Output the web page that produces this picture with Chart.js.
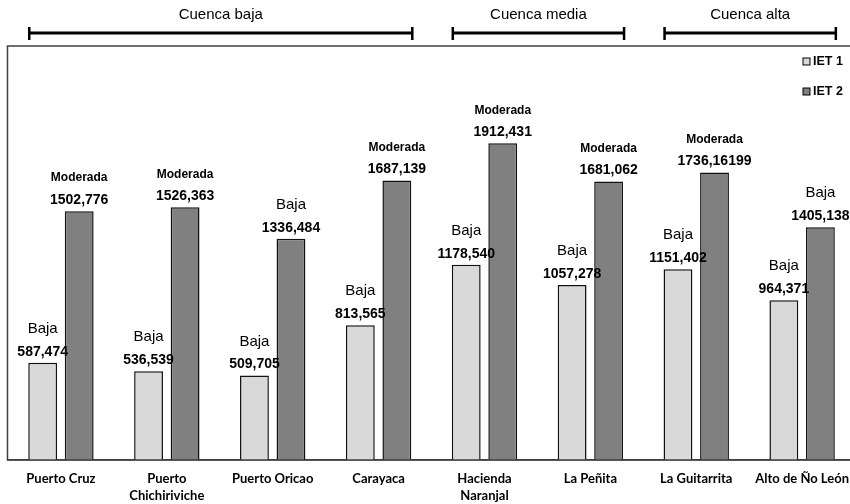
<html>
  <head>
    <title>IET por estación</title>
    <script src="https://cdn.jsdelivr.net/npm/chart.js"></script>
    <style type="text/css">
      html, body { margin: 0; padding: 0; background: #fff; overflow: hidden; }
      /* el lienzo es un poco más ancho que la ventana: el marco sigue por la derecha */
      #wrap { width: 859px; height: 504px; position: relative; }
    </style>
  </head>
  <body>
    <div id="wrap"><canvas id="ietChart"></canvas></div>
    <script>
      // Estaciones (dos líneas donde el nombre es largo)
      var stations = [
        'Puerto Cruz', ['Puerto', 'Chichiriviche'], 'Puerto Oricao', 'Carayaca',
        ['Hacienda', 'Naranjal'], 'La Peñita', 'La Guitarrita', 'Alto de Ño León'
      ];
      var iet1 = [587.474, 536.539, 509.705, 813.565, 1178.540, 1057.278, 1151.402, 964.371];
      var iet2 = [1502.776, 1526.363, 1336.484, 1687.139, 1912.431, 1681.062, 1736.16199, 1405.138];
      var iet1Class = ['Baja', 'Baja', 'Baja', 'Baja', 'Baja', 'Baja', 'Baja', 'Baja'];
      var iet2Class = ['Moderada', 'Moderada', 'Baja', 'Moderada', 'Moderada', 'Moderada', 'Moderada', 'Baja'];
      // tramos de la cuenca: [nombre, primera estación, última estación]
      var basins = [['Cuenca baja', 0, 3], ['Cuenca media', 4, 5], ['Cuenca alta', 6, 7]];

      var sans = '"Liberation Sans", Arial, sans-serif';

      // número con coma decimal y al menos tres decimales
      function fmt(v) {
        var parts = String(v).split('.');
        var dec = (parts[1] || '');
        while (dec.length < 3) dec += '0';
        return parts[0] + ',' + dec;
      }

      // etiquetas sobre las barras, borde del área, corchetes y leyenda
      var decorations = {
        id: 'decorations',
        afterDatasetsDraw: function(chart) {
          var ctx = chart.ctx;
          var area = chart.chartArea;
          ctx.save();

          // marco del gráfico
          ctx.strokeStyle = '#404040';
          ctx.lineWidth = 1.5;
          ctx.strokeRect(area.left - 0.5, area.top, area.right - area.left, area.bottom - area.top);

          ctx.textAlign = 'center';
          ctx.textBaseline = 'middle';
          ctx.fillStyle = '#000';
          [iet1Class, iet2Class].forEach(function(classes, di) {
            var meta = chart.getDatasetMeta(di);
            meta.data.forEach(function(bar, i) {
              var vy = bar.y - 11;
              ctx.font = 'bold 14px ' + sans;
              ctx.fillText(fmt(chart.data.datasets[di].data[i]), bar.x, vy);
              if (classes[i] === 'Moderada') {
                ctx.font = 'bold 12px ' + sans;
                ctx.fillText(classes[i], bar.x, vy - 22);
              } else {
                ctx.font = '15px ' + sans;
                ctx.fillText(classes[i], bar.x, vy - 23);
              }
            });
          });

          // corchetes de los tramos de cuenca
          var m1 = chart.getDatasetMeta(0), m2 = chart.getDatasetMeta(1);
          basins.forEach(function(b) {
            var a = m1.data[b[1]], z = m2.data[b[2]];
            var x0 = a.x - a.width / 2 + 1, x1 = z.x + z.width / 2 + 1;
            ctx.strokeStyle = '#000';
            ctx.lineWidth = 3;
            ctx.beginPath();
            ctx.moveTo(x0, 33); ctx.lineTo(x1, 33);
            ctx.stroke();
            ctx.lineWidth = 2.5;
            ctx.beginPath();
            ctx.moveTo(x0, 27); ctx.lineTo(x0, 40);
            ctx.moveTo(x1, 27); ctx.lineTo(x1, 40);
            ctx.stroke();
            ctx.font = '15px ' + sans;
            ctx.fillText(b[0], (x0 + x1) / 2, 15);
          });

          // leyenda
          ctx.textAlign = 'left';
          ctx.font = 'bold 12.5px ' + sans;
          chart.data.datasets.forEach(function(ds, i) {
            var y = 62 + i * 30;
            ctx.fillStyle = ds.backgroundColor;
            ctx.fillRect(803, y - 4, 7, 7);
            ctx.strokeStyle = '#000';
            ctx.lineWidth = 1;
            ctx.strokeRect(803, y - 4, 7, 7);
            ctx.fillStyle = '#000';
            ctx.fillText(ds.label, 813, y);
          });
          ctx.restore();
        }
      };

      new Chart(document.getElementById('ietChart'), {
        type: 'bar',
        data: {
          labels: stations,
          datasets: [
            { label: 'IET 1', data: iet1, backgroundColor: '#d9d9d9', borderColor: '#111', borderWidth: 1.5,
              categoryPercentage: 0.69, barPercentage: 0.79 },
            { label: 'IET 2', data: iet2, backgroundColor: '#808080', borderColor: '#111', borderWidth: 1.5,
              categoryPercentage: 0.69, barPercentage: 0.79 }
          ]
        },
        options: {
          responsive: true,
          maintainAspectRatio: false,
          animation: false,
          layout: { padding: { top: 46, left: 8, right: 0, bottom: 0 } },
          plugins: { legend: { display: false }, tooltip: { enabled: false } },
          scales: {
            y: { display: false, min: 0, max: 2500 },
            x: {
              grid: { display: false, drawTicks: false },
              border: { display: true, color: '#404040', width: 1.5 },
              ticks: {
                padding: 10,
                maxRotation: 0,
                autoSkip: false,
                color: '#000',
                font: { family: 'Lato, "Open Sans", sans-serif', weight: 'bold', size: 13, lineHeight: 1.3 }
              },
              afterFit: function(scale) { scale.height = 44; }
            }
          }
        },
        plugins: [decorations]
      });
    </script>
  </body>
</html>
